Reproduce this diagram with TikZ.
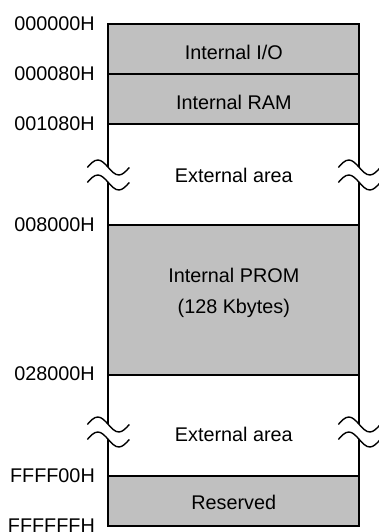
\documentclass[tikz,border=0pt]{standalone}
\usepackage{fontspec}
\setmainfont{Liberation Sans}
\definecolor{memgray}{HTML}{C0C0C0}
\newcommand\memTilde[2]{(#1-21,#2) sin (#1-10.5,#2-7.5) cos (#1,#2) sin (#1+10.5,#2+7.5) cos (#1+21,#2)}
\newcommand\memBreak[2]{%
  \fill[white] (#1-21,#2-7.5) sin (#1-10.5,#2-15) cos (#1,#2-7.5) sin (#1+10.5,#2) cos (#1+21,#2-7.5)
     -- (#1+21,#2+7.5) sin (#1+10.5,#2+15) cos (#1,#2+7.5) sin (#1-10.5,#2) cos (#1-21,#2+7.5) -- cycle;
  \draw[brk] \memTilde{#1}{#2-7.5};
  \draw[brk] \memTilde{#1}{#2+7.5};
}
\begin{document}
\begin{tikzpicture}[x=1pt,y=-1pt,
  grayarea/.style={fill=memgray, draw=black, line width=1.8pt},
  whitearea/.style={fill=white, draw=black, line width=1.8pt},
  addr/.style={anchor=east, inner sep=0pt, font=\fontsize{19.8}{23}\selectfont},
  areatext/.style={anchor=base, inner sep=0pt, font=\fontsize{19.8}{23}\selectfont},
  brk/.style={line width=1.4pt}]
\useasboundingbox (0,0) rectangle (379,532);
% areas
\draw[grayarea]  (108.3,24.3)  rectangle (359.3,74.3);
\draw[grayarea]  (108.3,74.3)  rectangle (359.3,124.3);
\draw[whitearea] (108.3,124.3) rectangle (359.3,225);
\draw[grayarea]  (108.3,225)   rectangle (359.3,375);
\draw[whitearea] (108.3,375)   rectangle (359.3,476);
\draw[grayarea]  (108.3,476)   rectangle (359.3,526);
% break marks
\memBreak{108.3}{175}
\memBreak{359.3}{175}
\memBreak{108.3}{432}
\memBreak{359.3}{432}
% area texts
\node[areatext] (io)   at (233.8,59.5) {Internal I/O};
\node[areatext] (ram)  at (233.8,109.5) {Internal RAM};
\node[areatext] (ext1) at (233.8,182) {External area};
\node[areatext] (prom) at (233.8,282) {Internal PROM};
\node[areatext] (size) at (233.8,313) {(128 Kbytes)};
\node[areatext] (ext2) at (233.8,441) {External area};
\node[areatext] (res)  at (233.8,509) {Reserved};
% addresses
\node[addr] (a0) at (95,23.5)  {000000H};
\node[addr] (a1) at (95,74)    {000080H};
\node[addr] (a2) at (95,124)   {001080H};
\node[addr] (a3) at (95,224.5) {008000H};
\node[addr] (a4) at (95,374)   {028000H};
\node[addr] (a5) at (95,475.5) {FFFF00H};
\node[addr] (a6) at (95,526)   {FFFFFFH};
\end{tikzpicture}
\end{document}
